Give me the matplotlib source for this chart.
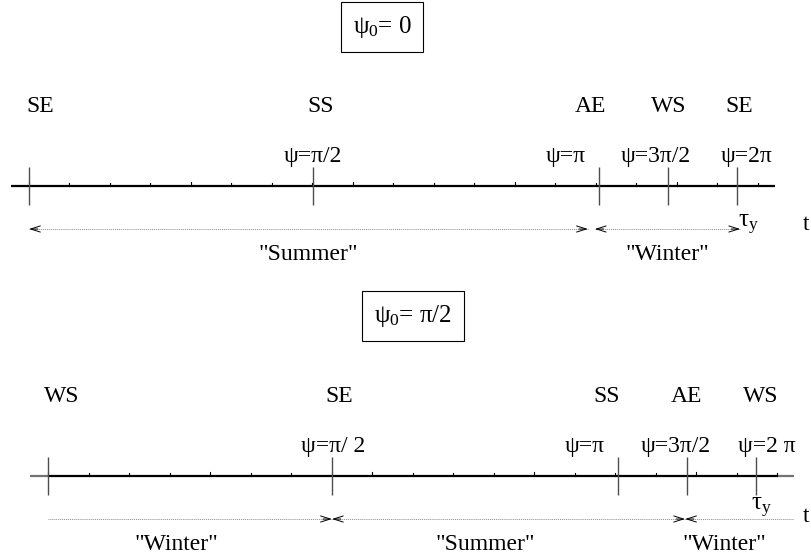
import matplotlib
matplotlib.use("Agg")
import matplotlib.pyplot as plt

plt.rcParams['font.family'] = ['Liberation Serif', 'DejaVu Serif']
plt.rcParams['mathtext.fontset'] = 'custom'
plt.rcParams['mathtext.rm'] = 'Liberation Serif'
plt.rcParams['mathtext.it'] = 'Liberation Serif'
plt.rcParams['mathtext.bf'] = 'Liberation Serif:bold'

# positions of the seasonal events on the t axis (in minor tick units)
event_t = [0.0, 7.01, 14.07, 15.78, 17.48]
n_minor = 18
t_lo, t_hi = -0.44, 18.42

titles = [r'$\psi_0$= 0', r'$\psi_0$= π/2']
seasons_top = ['SE', 'SS', 'AE', 'WS', 'SE']
seasons_bot = ['WS', 'SE', 'SS', 'AE', 'WS']
psi_top = ['ψ=π/2', 'ψ=π', 'ψ=3π/2', 'ψ=2π']
psi_bot = ['ψ=π/ 2', 'ψ=π', 'ψ=3π/2', 'ψ=2 π']

# (label, start, end, head at start, head at end)
periods_top = [('"Summer"', event_t[0], event_t[2] - 0.27, True, True),
               ('"Winter"', event_t[2] - 0.1, event_t[4] + 0.08, True, True)]
periods_bot = [('"Winter"', event_t[0], event_t[1], False, True),
               ('"Summer"', event_t[1], event_t[3] - 0.05, True, True),
               ('"Winter"', event_t[3] - 0.05, t_hi, True, False)]

W, H = 811, 556
PX = 40.5   # pixels per t unit
FS = 17

fig = plt.figure(figsize=(W / 100, H / 100), dpi=100)


def make_ax(y0, y1, x0, line_y):
    ax = fig.add_axes([0, 1 - y1 / H, 1, (y1 - y0) / H])
    ax.set_xlim(-x0 / PX, (W - x0) / PX)
    ax.set_ylim(y1 - line_y, y0 - line_y)
    ax.axis('off')
    return ax


def head(ax, t, y, d):
    ax.annotate('', xy=(t, y), xytext=(t - d * 0.22, y),
                arrowprops=dict(arrowstyle='->,head_length=0.7,head_width=0.22',
                                lw=0.7, color='black', shrinkA=0, shrinkB=0))


def panel(ax, title, title_xy, seasons, season_off, psis, psi_off,
          periods, word_off, tau_xy, t_xy, gray_ends):
    # axis line
    ec = '0.45' if gray_ends else 'black'
    ax.plot([t_lo, 0], [0, 0], color=ec, lw=1.6, solid_capstyle='butt')
    ax.plot([n_minor, t_hi], [0, 0], color=ec, lw=1.6, solid_capstyle='butt')
    ax.plot([0, n_minor], [0, 0], color='black', lw=1.6, solid_capstyle='butt')
    for k in range(n_minor + 1):
        h = 4.5 if k % 4 == 0 else 3
        ax.plot([k, k], [0, -h], color='black', lw=0.8)
    ax.vlines(event_t, -19, 19, color='0.3', lw=1.0)

    for t, lab, off in zip(event_t, seasons, season_off):
        ax.text(t + off / PX, -74, lab, ha='center', va='baseline', fontsize=FS)
    for t, lab, off in zip(event_t[1:], psis, psi_off):
        ax.text(t + off / PX, -24, lab, ha='center', va='baseline', fontsize=FS)

    for (lab, a, b, ha_, hb), off in zip(periods, word_off):
        ax.plot([a, b], [43, 43], color='0.55', lw=0.7, ls=(0, (1, 1)))
        if ha_:
            head(ax, a, 43, -1)
        if hb:
            head(ax, b, 43, 1)
        ax.text((a + b) / 2 + off / PX, 74, lab, ha='center', va='baseline', fontsize=FS)

    ax.text(title_xy[0], title_xy[1], title, ha='center', va='center', fontsize=18,
            bbox=dict(boxstyle='square,pad=0.48', fc='white', ec='black', lw=0.8))
    ax.text(tau_xy[0], tau_xy[1], r'$\tau_y$', ha='left', va='baseline', fontsize=18)
    ax.text(t_xy[0], t_xy[1], 't', ha='left', va='baseline', fontsize=FS)


ax1 = make_ax(0, 278, 29, 186)
panel(ax1, titles[0], ((382 - 29) / PX, -159), seasons_top, [11, 8, -8, 1, 2],
      psi_top, [0, -33.5, -12, 9.5], periods_top, [0, 0],
      (event_t[4] + 1 / PX, 41), ((803 - 29) / PX, 44), False)

ax2 = make_ax(278, 556, 48, 476)
panel(ax2, titles[1], ((413 - 48) / PX, -160), seasons_bot, [14, 7, -11, -1, 5],
      psi_bot, [1.5, -33, -11, 11], periods_bot, [-14, -23, -15],
      (event_t[4] - 5 / PX, 34), ((803 - 48) / PX, 46), True)

fig.savefig('out.png', dpi=100)
